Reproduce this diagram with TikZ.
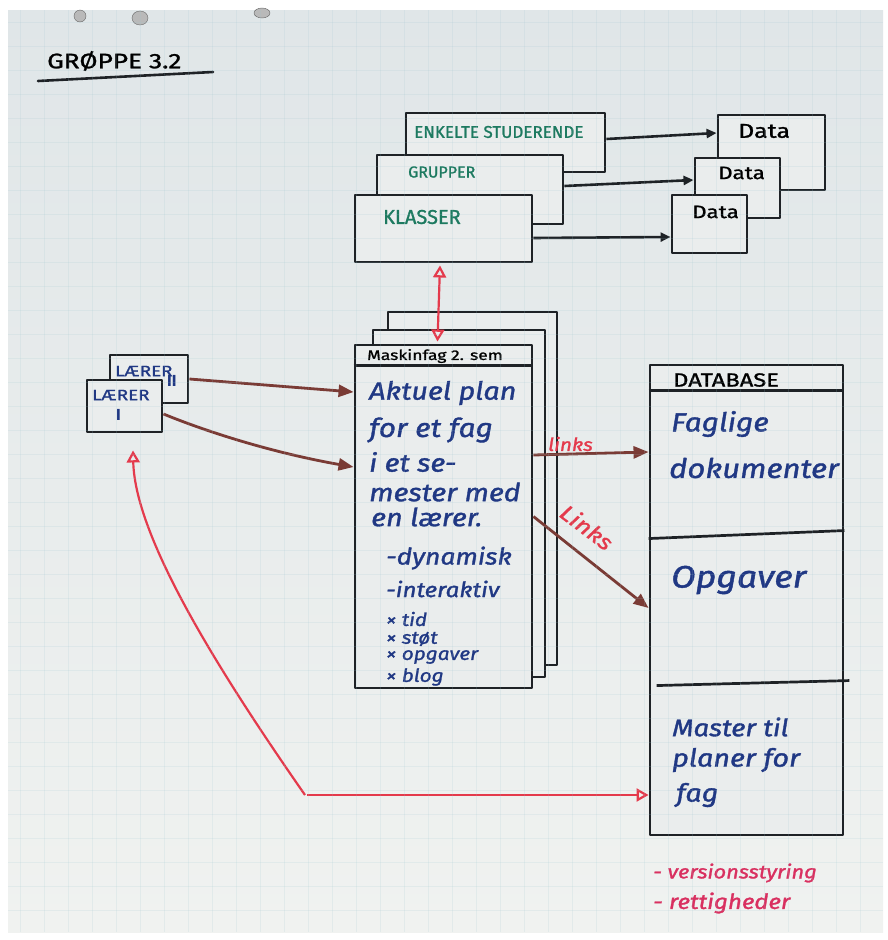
\documentclass[tikz,border=0pt]{standalone}
\usepackage{fontspec}
\setmainfont{Fira Sans}
\newfontfamily\handup[FakeStretch=1.25,FakeBold=1.2]{Fira Sans}
\newfontfamily\handcaps[FakeBold=1.2]{Fira Sans}
\newfontfamily\handit[FakeStretch=1.15,FakeBold=1.4]{Fira Sans}
\usetikzlibrary{arrows.meta,calc}
\newcommand\fsz[1]{\fontsize{#1}{#1}\selectfont}
\definecolor{paper}{HTML}{EAEDED}
\definecolor{papertop}{HTML}{E0E6E8}
\definecolor{paperbot}{HTML}{F0F2F0}
\definecolor{ink}{HTML}{1E2226}
\definecolor{inkgreen}{HTML}{1D7A60}
\definecolor{inkblue}{HTML}{203884}
\definecolor{inkbrown}{HTML}{7A3B35}
\definecolor{inkred}{HTML}{E43A4C}
\definecolor{inkpink}{HTML}{D93060}
\definecolor{gridc}{HTML}{9EC6D0}
\begin{document}
\begin{tikzpicture}[x=1pt,y=-1pt,
  box/.style={draw=ink, line width=2.9pt, fill=paper, inner sep=0pt, line join=round},
  lbl/.style={anchor=west, inner sep=0pt},
  blackarrow/.style={draw=ink, line width=2.6pt, -{Triangle[length=10pt,width=9pt]}},
  brownarrow/.style={draw=inkbrown, line width=2.8pt, -{Triangle[length=15pt,width=12pt]}},
  redarrow/.style={draw=inkred, line width=2.2pt, -{Triangle[open,length=12pt,width=13pt,line width=2.2pt]}},
  divider/.style={draw=ink, line width=2.7pt},
]
\useasboundingbox (0,0) rectangle (887,940);
\fill[white] (0,0) rectangle (887,940);
% flip-chart sheet
\shade[top color=papertop, bottom color=paperbot] (8,10) rectangle (883,932);
% punched holes along the top edge
\foreach \hx/\hy/\rx/\ry in {80/16/6/6, 140/18/8/7, 262/13/8/5}
  \filldraw[fill=gray!55, draw=gray!80!black] (\hx,\hy) ellipse [x radius=\rx, y radius=\ry];

% title
\node[lbl] (title) at (47,61) {\handup\fsz{21}GRØPPE 3.2};
\draw[ink, line width=2.6pt, line cap=round] (38,81) -- (213,72);

% stacked target boxes, back to front
\node[box, minimum width=107pt, minimum height=75pt] (data1) at (771.5,152.5) {};
\node[box, minimum width=85pt, minimum height=60pt] (data2) at (737.5,188) {};
\node[box, minimum width=75pt, minimum height=58pt] (data3) at (709.5,224) {};
\node[lbl] (d1t) at (738,131) {\handup\fsz{20}Data};
\node[lbl] (d2t) at (718,173) {\handup\fsz{18}Data};
\node[lbl] (d3t) at (692,212) {\handup\fsz{18}Data};

\node[box, minimum width=199pt, minimum height=59pt] (enk) at (505.5,142.5) {};
\node[box, minimum width=186pt, minimum height=69pt] (grp) at (470,189.5) {};
\node[box, minimum width=177pt, minimum height=67pt] (kls) at (443.5,228.5) {};
\node[lbl, text=inkgreen] (enkt) at (414,132) {\handcaps\fsz{17}ENKELTE STUDERENDE};
\node[lbl, text=inkgreen] (grpt) at (408,172) {\handcaps\fsz{16}GRUPPER};
\node[lbl, text=inkgreen] (klst) at (383,217) {\handcaps\fsz{20}KLASSER};

% course plan stack
\node[box, minimum width=169pt, minimum height=353pt] (plan3) at (472.5,488.5) {};
\node[box, minimum width=172pt, minimum height=347pt] (plan2) at (459,503.5) {};
\node[box, minimum width=177pt, minimum height=343pt] (plan) at (443.5,516.5) {};
\draw[divider] ([yshift=-22pt]plan.north west) -- ([yshift=-22pt]plan.north east);
\node[lbl] (plant) at (367,356) {\handup\fsz{14}Maskinfag 2. sem};
\begin{scope}[every node/.style={lbl, text=inkblue}]
\node (p1) at (369,393) {\handit\itshape\fsz{25}Aktuel plan};
\node (p2) at (369,430) {\handit\itshape\fsz{26}for et fag};
\node (p3) at (369,462) {\handit\itshape\fsz{25}i et se-};
\node (p4) at (369,492) {\handit\itshape\fsz{25}mester med};
\node (p5) at (371,517) {\handit\itshape\fsz{25}en lærer.};
\node (p6) at (386,558) {\handit\itshape\fsz{23}-dynamisk};
\node (p7) at (386,589) {\handit\itshape\fsz{21}-interaktiv};
\node (p8) at (386,619) {\handit\itshape\fsz{18}× tid};
\node (p9) at (386,639) {\handit\itshape\fsz{18}× støt};
\node (p10) at (386,657) {\handit\itshape\fsz{18}× opgaver};
\node (p11) at (386,677) {\handit\itshape\fsz{18}× blog};
\end{scope}

% teachers
\node[box, minimum width=78pt, minimum height=48pt] (l2) at (149,379) {};
\node[box, minimum width=75pt, minimum height=52pt] (l1) at (124.5,406) {};
\node[lbl, text=inkblue] (l2t) at (115,371) {\handup\fsz{15}LÆRER};
\node[lbl, text=inkblue] (l2n) at (167,381) {\rmfamily\bfseries\fsz{16}II};
\node[lbl, text=inkblue] (l1t) at (92,395) {\handup\fsz{15}LÆRER};
\node[lbl, text=inkblue] (l1n) at (116,415) {\rmfamily\bfseries\fsz{16}I};

% database
\node[box, minimum width=193pt, minimum height=470pt] (db) at (746.5,600) {};
\draw[divider] ([yshift=-27pt]db.north west) -- ([yshift=-27pt]db.north east);
\draw[divider] ([yshift=-175pt]db.north west) -- ([yshift=-167pt]db.north east);
\draw[divider] ([xshift=8pt,yshift=-322pt]db.north west) -- ([xshift=5pt,yshift=-317pt]db.north east);
\node[lbl] (dbt) at (673,380) {\handup\fsz{19}DATABASE};
\begin{scope}[every node/.style={lbl, text=inkblue}]
\node (db1) at (671,424) {\handit\itshape\fsz{26}Faglige};
\node (db2) at (669,468) {\handit\itshape\fsz{27}dokumenter};
\node (db3) at (671,580) {\handit\itshape\fsz{31}Opgaver};
\node (db4) at (672,727) {\handit\itshape\fsz{24}Master til};
\node (db5) at (672,760) {\handit\itshape\fsz{25}planer for};
\node (db6) at (676,795) {\handit\itshape\fsz{25}fag};
\end{scope}

% connectors
\draw[blackarrow] ([yshift=3.5pt]enk.east) -- ([yshift=19.5pt]data1.west);
\draw[blackarrow] ([yshift=3.5pt]grp.east) -- ([yshift=8pt]data2.west);
\draw[blackarrow] ([yshift=-9.5pt]kls.east) -- ([yshift=-13pt]data3.west);

\draw[redarrow, {Triangle[open,length=12pt,width=13pt,line width=2.2pt]}-{Triangle[open,length=12pt,width=13pt,line width=2.2pt]}]
  ([xshift=-3.5pt,yshift=-2pt]kls.south) -- ([xshift=-6pt,yshift=2pt]plan.north);

\draw[brownarrow] (l2.east) -- ([yshift=124.5pt]plan.west);
\draw[brownarrow] ([yshift=-8pt]l1.east) .. controls (220,437) and (285,455) .. ([yshift=49.5pt]plan.west);

\draw[brownarrow] ([yshift=61.5pt]plan.east) -- ([yshift=148pt]db.west);
\node[text=inkred, lbl] (lk1) at (548,444) {\handit\itshape\fsz{18}links};
\draw[brownarrow] (plan.east) -- ([yshift=-8pt]db.west);
\node[text=inkred, rotate=-37, inner sep=0pt] (lk2) at (587,527) {\handit\itshape\fsz{22}Links};

\coordinate (corner) at (305,795);
\draw[redarrow] (corner) .. controls (225,680) and (135,540) .. ([xshift=8.5pt,yshift=-17pt]l1.south);
\draw[redarrow] ([xshift=2pt]corner) -- ([yshift=-195pt]db.west);

% notes under the database
\node[lbl, text=inkpink] (n1) at (653,873) {\handit\itshape\fsz{19}- versionsstyring};
\node[lbl, text=inkpink] (n2) at (653,903) {\handit\itshape\fsz{21}- rettigheder};

% squared ruling of the sheet, showing through the ink
\begin{scope}[gridc, line width=0.5pt, opacity=0.16]
\foreach \gx in {20,44,...,880} \draw (\gx,10) -- (\gx,932);
\foreach \gy in {22,46,...,930} \draw (8,\gy) -- (883,\gy);
\end{scope}
\end{tikzpicture}
\end{document}
